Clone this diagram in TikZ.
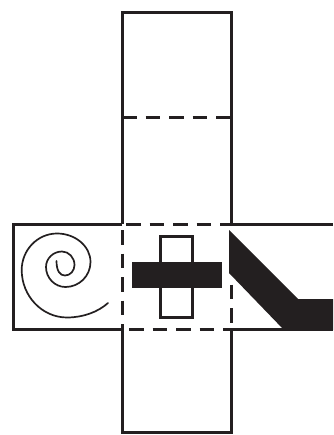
\documentclass[tikz,border=0pt]{standalone}
\definecolor{ink}{HTML}{231F20}
\tikzset{
  outline/.style={draw=ink,line width=3pt},
  dashline/.style={draw=ink,line width=3pt,dash pattern=on 14.5pt off 9pt},
  curl/.style={draw=ink,line width=1.7pt,line cap=round},
  solidfill/.style={fill=ink,draw=none}
}
\begin{document}
\begin{tikzpicture}[x=1pt,y=-1pt]
\useasboundingbox (0,0) rectangle (333,435);
% top and bottom flaps
\draw[outline] (122,224) -- (122,13) -- (231,13) -- (231,224);
\draw[outline] (122,329) -- (122,432) -- (231,432) -- (231,329);
% horizontal band
\draw[outline] (122,224) -- (13,224) -- (13,329) -- (122,329);
\draw[outline] (231,224) -- (333,224);
\draw[outline] (231,329) -- (333,329);
% fold lines
\draw[dashline] (126,224) -- (231,224);
\draw[dashline] (122,118) -- (231,118);
\draw[dashline] (122,230) -- (122,329);
\draw[dashline] (231,284.5) -- (231,329);
\draw[dashline] (129,329) -- (231,329);
% cross
\draw[outline] (160,236) rectangle (192.5,317.5);
\fill[solidfill] (132,262) rectangle (222,288);
% black band
\fill[solidfill] (229,230) -- (298,299) -- (333,299) -- (333,330) -- (284,330) -- (229,273) -- cycle;
% spiral
\draw[curl] (56.5,261) .. controls (56.5,271) and (60,275.5) .. (65,275.5)
  .. controls (70.2,275.5) and (74.5,270.8) .. (74.5,265)
  .. controls (74.5,257.6) and (68.9,251.5) .. (62,251.5)
  .. controls (53.2,251.5) and (46,258.4) .. (46,267)
  .. controls (46,278) and (54.8,287) .. (65.5,287)
  .. controls (79.3,287) and (90.5,275.8) .. (90.5,262)
  .. controls (90.5,246.3) and (75.4,233.5) .. (57,233.5)
  .. controls (37.6,233.5) and (21.7,249.9) .. (21.7,270)
  .. controls (21.7,296) and (42,317.5) .. (67,317.5)
  .. controls (83,317.5) and (98,312) .. (108,303);
\end{tikzpicture}
\end{document}
